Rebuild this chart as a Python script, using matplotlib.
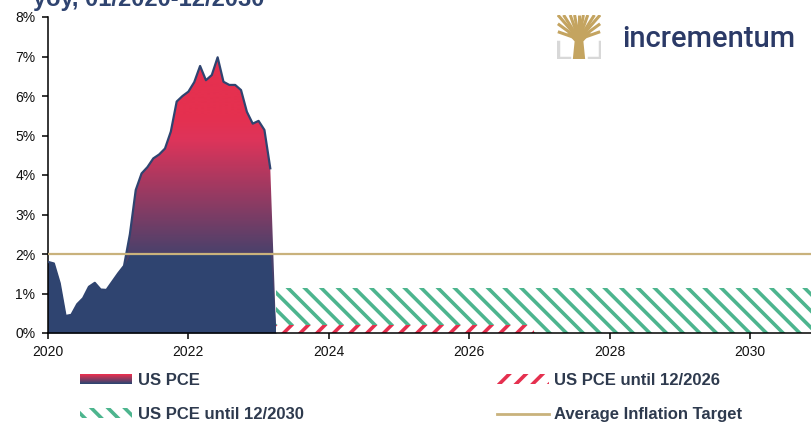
import numpy as np
import matplotlib
matplotlib.use("Agg")
import matplotlib.pyplot as plt
from matplotlib.colors import LinearSegmentedColormap, to_rgb
from matplotlib.patches import Rectangle, Polygon
from matplotlib.lines import Line2D
from matplotlib.legend_handler import HandlerBase

# ---------------- data ----------------
pce_start = 2020.0  # Jan 2020, monthly
pce_values = [1.80, 1.76, 1.26, 0.43, 0.46, 0.73, 0.88, 1.17, 1.27, 1.10, 1.09, 1.30,
              1.51, 1.70, 2.50, 3.62, 4.04, 4.20, 4.42, 4.52, 4.67, 5.10, 5.86, 6.00,
              6.11, 6.35, 6.76, 6.40, 6.53, 6.98, 6.36, 6.28, 6.28, 6.15, 5.60, 5.30,
              5.37, 5.14, 4.17]
proj_2026_x = [2023.25, 2026.917]
proj_2026_y = [0.20, 0.20]
proj_2030_x = [2023.25, 2030.917]
proj_2030_y = [1.13, 1.13]
target = 2.0
xticks = [2020, 2022, 2024, 2026, 2028, 2030]
yticks = [0, 1, 2, 3, 4, 5, 6, 7, 8]
title_text = "yoy, 01/2020-12/2030"
labels = ["US PCE", "US PCE until 12/2026", "US PCE until 12/2030", "Average Inflation Target"]

# ---------------- style ----------------
NAVY = "#2F4470"
RED = "#E5304F"
GREEN = "#4DB58E"
GOLD = "#C9B27C"
TXT = "#2E3A4E"
plt.rcParams['font.family'] = ['Liberation Sans', 'DejaVu Sans']
plt.rcParams['hatch.linewidth'] = 2.6

fig = plt.figure(figsize=(8.11, 4.28), dpi=100)
W, H = 811, 428
ax = fig.add_axes([48 / W, 1 - 333 / H, 1 - 48 / W, (333 - 17) / H])

xs = pce_start + np.arange(len(pce_values)) / 12.0
vals = np.array(pce_values)
x_end = xs[-1] + 1 / 12.0

# gradient fill for PCE (above) with navy base below 2%
poly_x = np.concatenate([[xs[0]], xs, [x_end, x_end, xs[0]]])
poly_y = np.concatenate([[0], vals, [0, 0, 0]])
clip = Polygon(np.column_stack([poly_x, poly_y]), closed=True, transform=ax.transData,
               facecolor='none', edgecolor='none')
ax.add_patch(clip)
grad_cmap = LinearSegmentedColormap.from_list(
    "pce", [(0.0, "#46416B"), (2.0 / 8, "#4A416B"), (4.9 / 8, "#DE345A"), (5.5 / 8, RED), (1.0, RED)])
gy = np.linspace(0, 1, 400).reshape(-1, 1)
im = ax.imshow(gy, extent=[2020, 2031, 0, 8], origin='lower', aspect='auto',
               cmap=grad_cmap, vmin=0, vmax=1, zorder=1, interpolation='bilinear')
im.set_clip_path(clip)
ax.fill_between(np.concatenate([xs, [x_end]]), 0,
                np.minimum(np.concatenate([vals, [0]]), target),
                color=NAVY, lw=0, zorder=2)
ax.plot(xs, vals, color=NAVY, lw=1.6, zorder=3)

# projections
ax.fill_between(proj_2030_x, 0, proj_2030_y, facecolor='none', edgecolor=GREEN,
                hatch='\\\\', lw=0, zorder=2)
ax.fill_between(proj_2026_x, 0, proj_2026_y, facecolor='white', edgecolor=RED,
                hatch='//', lw=0, zorder=2.5)

# target line
ax.axhline(target, color=GOLD, lw=1.6, zorder=4)

ax.set_xlim(2020, 2030.87)
ax.set_ylim(0, 8)
ax.set_xticks(xticks)
ax.set_xticklabels([str(t) for t in xticks])
ax.set_yticks(yticks)
ax.set_yticklabels([f"{t}%" for t in yticks])
for s in ['top', 'right']:
    ax.spines[s].set_visible(False)
for s in ['left', 'bottom']:
    ax.spines[s].set_linewidth(1.1)
    ax.spines[s].set_color('black')
ax.tick_params(axis='both', direction='out', length=4, width=1.1, labelsize=10,
               labelcolor='#111111', pad=5)
ax.set_facecolor('none')

# title (cut off at top, as in the source)
fig.text(33 / W, 1 - 6 / H, title_text, fontsize=17, fontweight='bold', color=NAVY,
         va='baseline', ha='left')

# logo
fig.text(622 / W, 1 - 47 / H, "incrementum", fontsize=21, color="#2B3A67",
         family=['Roboto', 'DejaVu Sans'], fontweight='medium', va='baseline', ha='left')
lax = fig.add_axes([557 / W, 1 - 59 / H, 44 / W, 44 / H])
lax.set_xlim(0, 1)
lax.set_ylim(0, 1)
lax.axis('off')
TREE = "#C4A460"
GRAY = "#D8D8D8"
lax.add_patch(Polygon([[0.36, 0.0], [0.64, 0.0], [0.60, 0.40], [0.78, 0.60], [0.50, 0.52],
                       [0.22, 0.60], [0.40, 0.40]], closed=True, color=TREE, lw=0))
for (x1, y1) in [(0.02, 1.0), (0.98, 1.0), (0.02, 0.62), (0.98, 0.62), (0.30, 1.0),
                 (0.70, 1.0), (0.5, 1.0), (0.02, 0.80), (0.98, 0.80), (0.15, 1.0),
                 (0.85, 1.0), (0.40, 1.0), (0.60, 1.0)]:
    lax.plot([0.5, x1], [0.45, y1], color=TREE, lw=2.2, solid_capstyle='butt')
lax.plot([0.02, 0.02, 0.28], [0.38, 0.02, 0.02], color=GRAY, lw=2.5)
lax.plot([0.98, 0.98, 0.72], [0.38, 0.02, 0.02], color=GRAY, lw=2.5)


# legend
class GradientHandler(HandlerBase):
    def create_artists(self, legend, orig_handle, xdescent, ydescent, width, height,
                       fontsize, trans):
        n = 10
        c_top = np.array(to_rgb(RED))
        c_bot = np.array(to_rgb(NAVY))
        h = height * 1.0
        y0 = -ydescent + (height - h) / 2
        arts = []
        for i in range(n):
            f = i / (n - 1)
            col = c_bot * (1 - f) + c_top * f
            arts.append(Rectangle((-xdescent, y0 + h * i / n), width, h / n + 0.3,
                                  facecolor=col, edgecolor='none', transform=trans))
        return arts


class GradHandle:
    pass


h_pce = GradHandle()
h_2026 = Rectangle((0, 0), 1, 1, facecolor='white', edgecolor=RED, hatch='//', lw=0)
h_2030 = Rectangle((0, 0), 1, 1, facecolor='white', edgecolor=GREEN, hatch='\\\\', lw=0)
h_tgt = Line2D([], [], color=GOLD, lw=2)

leg_kw = dict(frameon=False, handlelength=3.1, handleheight=0.5,
              handletextpad=0.35, labelspacing=1.13, borderpad=0, borderaxespad=0,
              loc='upper left', prop={'weight': 'bold', 'size': 12},
              handler_map={GradHandle: GradientHandler()})
leg1 = fig.legend([h_pce, h_2030], [labels[0], labels[2]],
                  bbox_to_anchor=(80 / W, 1 - 373 / H), **leg_kw)
leg2 = fig.legend([h_2026, h_tgt], [labels[1], labels[3]],
                  bbox_to_anchor=(497 / W, 1 - 373 / H), **leg_kw)
for lg in (leg1, leg2):
    for t in lg.get_texts():
        t.set_color(TXT)

fig.savefig("out.png", dpi=100)
